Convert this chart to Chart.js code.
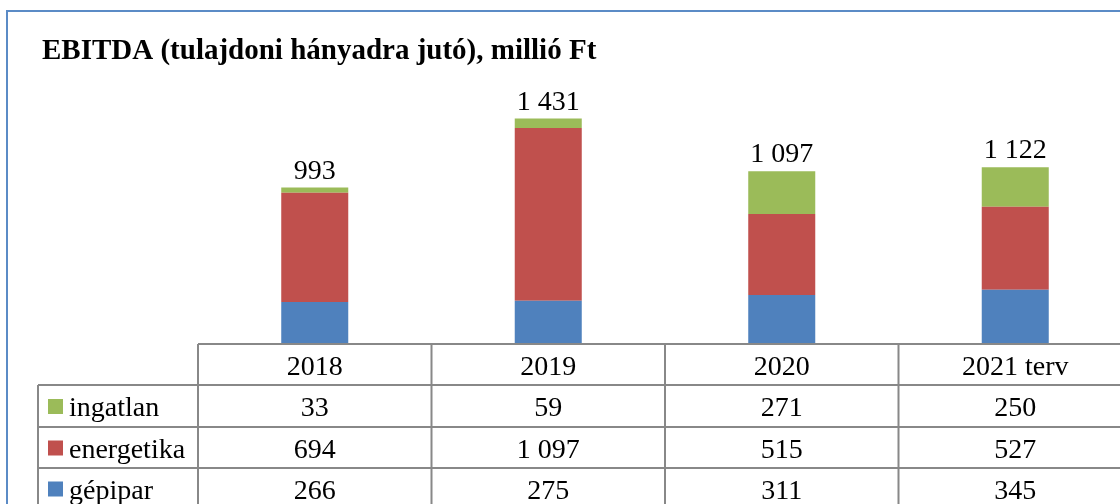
<!DOCTYPE html>
<html>
<head>
<meta charset="utf-8">
<script src="https://cdn.jsdelivr.net/npm/chart.js@4/dist/chart.umd.min.js"></script>
<style>
    html, body { margin: 0; padding: 0; background: #fff; overflow: hidden; }
    #wrap { width: 1140px; height: 504px; }
</style>
</head>
<body>
<div id="wrap"><canvas id="ebitdaChart" width="1140" height="504"></canvas></div>
<script>
const years = ["2018", "2019", "2020", "2021 terv"];
const gepipar = [266, 275, 311, 345];
const energetika = [694, 1097, 515, 527];
const ingatlan = [33, 59, 271, 250];
const totals = [993, 1431, 1097, 1122];

const BLUE = "#4F81BD", RED = "#C0504D", GREEN = "#9BBB59";
const SERIF = "'Liberation Serif', 'Times New Roman', serif";

function fmt(n) {
    return String(n).replace(/\B(?=(\d{3})+(?!\d))/g, " ");
}

// title, frame, totals above the bars and the data table under the plot
const extras = {
    id: "extras",
    afterDraw(chart) {
        const ctx = chart.ctx;
        const x = chart.scales.x;
        const area = chart.chartArea;
        ctx.save();

        ctx.strokeStyle = "#5B8BC6";
        ctx.lineWidth = 2;
        ctx.strokeRect(7, 11, 1200, 600);

        ctx.fillStyle = "#000";
        ctx.font = "bold 29px " + SERIF;
        ctx.textAlign = "left";
        ctx.textBaseline = "alphabetic";
        ctx.fillText("EBITDA (tulajdoni hányadra jutó), millió Ft", 42, 59);

        // totals
        const top = chart.getDatasetMeta(2);
        ctx.font = "28px " + SERIF;
        ctx.textAlign = "center";
        top.data.forEach((bar, i) => {
            ctx.fillText(fmt(totals[i]), bar.x, bar.y - 9);
        });

        // table
        const colW = x.getPixelForValue(1) - x.getPixelForValue(0);
        const left = area.left;
        const right = area.right;
        const rowTop = area.bottom;
        const rowH = [41, 42, 41, 41];
        const ys = [rowTop];
        rowH.forEach(h => ys.push(ys[ys.length - 1] + h));
        const labelLeft = 38;

        ctx.strokeStyle = "#888";
        ctx.lineWidth = 2;
        ctx.beginPath();
        ctx.moveTo(left, ys[0]); ctx.lineTo(right + 20, ys[0]);
        for (let r = 1; r < ys.length; r++) {
            ctx.moveTo(labelLeft, ys[r]); ctx.lineTo(right + 20, ys[r]);
        }
        ctx.moveTo(labelLeft, ys[1]); ctx.lineTo(labelLeft, 520);
        for (let i = 0; i <= years.length; i++) {
            const cx = x.getPixelForValue(0) - colW / 2 + i * colW;
            ctx.moveTo(cx, ys[0]); ctx.lineTo(cx, 520);
        }
        ctx.stroke();

        ctx.fillStyle = "#000";
        ctx.font = "28px " + SERIF;
        ctx.textAlign = "center";
        years.forEach((y, i) => {
            ctx.fillText(y, x.getPixelForValue(i), (ys[0] + ys[1]) / 2 + 10);
        });

        const rows = [
            { name: "ingatlan", color: GREEN, values: ingatlan },
            { name: "energetika", color: RED, values: energetika },
            { name: "gépipar", color: BLUE, values: gepipar }
        ];
        rows.forEach((row, r) => {
            const mid = (ys[r + 1] + ys[r + 2]) / 2;
            ctx.fillStyle = row.color;
            ctx.fillRect(48, mid - 7, 15, 15);
            ctx.fillStyle = "#000";
            ctx.textAlign = "left";
            ctx.fillText(row.name, 69, mid + 10);
            ctx.textAlign = "center";
            row.values.forEach((v, i) => {
                ctx.fillText(fmt(v), x.getPixelForValue(i), mid + 10);
            });
        });

        ctx.restore();
    }
};

new Chart(document.getElementById("ebitdaChart"), {
    type: "bar",
    data: {
        labels: years,
        datasets: [
            { label: "gépipar", data: gepipar, backgroundColor: BLUE },
            { label: "energetika", data: energetika, backgroundColor: RED },
            { label: "ingatlan", data: ingatlan, backgroundColor: GREEN }
        ]
    },
    options: {
        responsive: false,
        animation: false,
        devicePixelRatio: 1,
        layout: { padding: { left: 198, right: 8, top: 92, bottom: 160 } },
        datasets: { bar: { categoryPercentage: 1, barPercentage: 0.287 } },
        scales: {
            x: { stacked: true, display: false },
            y: { stacked: true, display: false, min: 0, max: 1600 }
        },
        plugins: {
            legend: { display: false },
            tooltip: { enabled: false },
            title: { display: false }
        }
    },
    plugins: [extras]
});
</script>
</body>
</html>
